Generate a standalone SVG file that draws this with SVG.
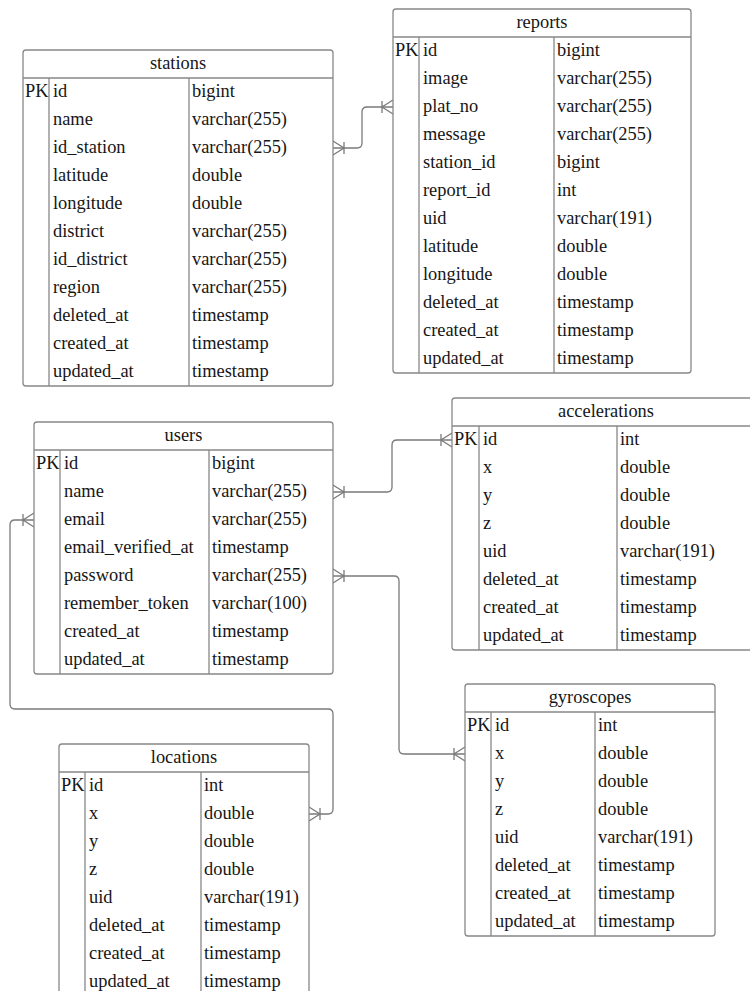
<svg xmlns="http://www.w3.org/2000/svg" width="750" height="991" viewBox="0 0 750 991">
<style>
.box{fill:#fff;stroke:#888;stroke-width:1.3}
.ln{stroke:#888;stroke-width:1.3;fill:none}
.t{font-family:"Liberation Serif","Times New Roman",serif;font-size:18.4px;fill:#161616}
.h{text-anchor:middle}
.conn{fill:none;stroke:#7a7a7a;stroke-width:1.3;marker-start:url(#crow);marker-end:url(#crow)}
</style>
<defs>
<marker id="crow" markerUnits="userSpaceOnUse" refX="0" refY="0" markerWidth="30" markerHeight="30" orient="auto-start-reverse" overflow="visible">
<path d="M0,-7 L-11,0 L0,7 M-11,-6 V6" fill="none" stroke="#7a7a7a" stroke-width="1.3"/>
</marker>
</defs>
<rect width="750" height="991" fill="#fff"/>

<g id="connectors">
<path class="conn" d="M333,148 H357 Q362,148 362,143 V112 Q362,107 367,107 H393"/>
<path class="conn" d="M333,492 H387 Q392,492 392,487 V445 Q392,440 397,440 H452"/>
<path class="conn" d="M34,520 H15 Q10,520 10,525 V704 Q10,709 15,709 H328 Q333,709 333,714 V809 Q333,814 328,814 H309"/>
<path class="conn" d="M333,576 H394 Q399,576 399,581 V749 Q399,754 404,754 H465"/>
</g>

<g id="stations">
<rect class="box" x="23" y="50" width="310" height="336" rx="3"/>
<path class="ln" d="M23,78 H333 M49,78 V386 M189,78 V386"/>
<text class="t h" x="178" y="68.5">stations</text>
<text class="t" x="25" y="97">PK</text>
<text class="t" x="53" y="97">id</text><text class="t" x="192" y="97">bigint</text>
<text class="t" x="53" y="125">name</text><text class="t" x="192" y="125">varchar(255)</text>
<text class="t" x="53" y="153">id_station</text><text class="t" x="192" y="153">varchar(255)</text>
<text class="t" x="53" y="181">latitude</text><text class="t" x="192" y="181">double</text>
<text class="t" x="53" y="209">longitude</text><text class="t" x="192" y="209">double</text>
<text class="t" x="53" y="237">district</text><text class="t" x="192" y="237">varchar(255)</text>
<text class="t" x="53" y="265">id_district</text><text class="t" x="192" y="265">varchar(255)</text>
<text class="t" x="53" y="293">region</text><text class="t" x="192" y="293">varchar(255)</text>
<text class="t" x="53" y="321">deleted_at</text><text class="t" x="192" y="321">timestamp</text>
<text class="t" x="53" y="349">created_at</text><text class="t" x="192" y="349">timestamp</text>
<text class="t" x="53" y="377">updated_at</text><text class="t" x="192" y="377">timestamp</text>
</g>

<g id="reports">
<rect class="box" x="393" y="9" width="298" height="364" rx="3"/>
<path class="ln" d="M393,37 H691 M419,37 V373 M554,37 V373"/>
<text class="t h" x="542" y="27.5">reports</text>
<text class="t" x="395" y="56">PK</text>
<text class="t" x="423" y="56">id</text><text class="t" x="557" y="56">bigint</text>
<text class="t" x="423" y="84">image</text><text class="t" x="557" y="84">varchar(255)</text>
<text class="t" x="423" y="112">plat_no</text><text class="t" x="557" y="112">varchar(255)</text>
<text class="t" x="423" y="140">message</text><text class="t" x="557" y="140">varchar(255)</text>
<text class="t" x="423" y="168">station_id</text><text class="t" x="557" y="168">bigint</text>
<text class="t" x="423" y="196">report_id</text><text class="t" x="557" y="196">int</text>
<text class="t" x="423" y="224">uid</text><text class="t" x="557" y="224">varchar(191)</text>
<text class="t" x="423" y="252">latitude</text><text class="t" x="557" y="252">double</text>
<text class="t" x="423" y="280">longitude</text><text class="t" x="557" y="280">double</text>
<text class="t" x="423" y="308">deleted_at</text><text class="t" x="557" y="308">timestamp</text>
<text class="t" x="423" y="336">created_at</text><text class="t" x="557" y="336">timestamp</text>
<text class="t" x="423" y="364">updated_at</text><text class="t" x="557" y="364">timestamp</text>
</g>

<g id="users">
<rect class="box" x="34" y="422" width="299" height="252" rx="3"/>
<path class="ln" d="M34,450 H333 M60,450 V674 M209,450 V674"/>
<text class="t h" x="183.5" y="440.5">users</text>
<text class="t" x="36" y="469">PK</text>
<text class="t" x="64" y="469">id</text><text class="t" x="212" y="469">bigint</text>
<text class="t" x="64" y="497">name</text><text class="t" x="212" y="497">varchar(255)</text>
<text class="t" x="64" y="525">email</text><text class="t" x="212" y="525">varchar(255)</text>
<text class="t" x="64" y="553">email_verified_at</text><text class="t" x="212" y="553">timestamp</text>
<text class="t" x="64" y="581">password</text><text class="t" x="212" y="581">varchar(255)</text>
<text class="t" x="64" y="609">remember_token</text><text class="t" x="212" y="609">varchar(100)</text>
<text class="t" x="64" y="637">created_at</text><text class="t" x="212" y="637">timestamp</text>
<text class="t" x="64" y="665">updated_at</text><text class="t" x="212" y="665">timestamp</text>
</g>

<g id="accelerations">
<rect class="box" x="452" y="398" width="308" height="252" rx="3"/>
<path class="ln" d="M452,426 H760 M479,426 V650 M617,426 V650"/>
<text class="t h" x="606" y="416.5">accelerations</text>
<text class="t" x="454" y="445">PK</text>
<text class="t" x="483" y="445">id</text><text class="t" x="620" y="445">int</text>
<text class="t" x="483" y="473">x</text><text class="t" x="620" y="473">double</text>
<text class="t" x="483" y="501">y</text><text class="t" x="620" y="501">double</text>
<text class="t" x="483" y="529">z</text><text class="t" x="620" y="529">double</text>
<text class="t" x="483" y="557">uid</text><text class="t" x="620" y="557">varchar(191)</text>
<text class="t" x="483" y="585">deleted_at</text><text class="t" x="620" y="585">timestamp</text>
<text class="t" x="483" y="613">created_at</text><text class="t" x="620" y="613">timestamp</text>
<text class="t" x="483" y="641">updated_at</text><text class="t" x="620" y="641">timestamp</text>
</g>

<g id="gyroscopes">
<rect class="box" x="465" y="684" width="250" height="252" rx="3"/>
<path class="ln" d="M465,712 H715 M491,712 V936 M595,712 V936"/>
<text class="t h" x="590" y="702.5">gyroscopes</text>
<text class="t" x="467" y="731">PK</text>
<text class="t" x="495" y="731">id</text><text class="t" x="598" y="731">int</text>
<text class="t" x="495" y="759">x</text><text class="t" x="598" y="759">double</text>
<text class="t" x="495" y="787">y</text><text class="t" x="598" y="787">double</text>
<text class="t" x="495" y="815">z</text><text class="t" x="598" y="815">double</text>
<text class="t" x="495" y="843">uid</text><text class="t" x="598" y="843">varchar(191)</text>
<text class="t" x="495" y="871">deleted_at</text><text class="t" x="598" y="871">timestamp</text>
<text class="t" x="495" y="899">created_at</text><text class="t" x="598" y="899">timestamp</text>
<text class="t" x="495" y="927">updated_at</text><text class="t" x="598" y="927">timestamp</text>
</g>

<g id="locations">
<rect class="box" x="59" y="744" width="250" height="252" rx="3"/>
<path class="ln" d="M59,772 H309 M85,772 V996 M201,772 V996"/>
<text class="t h" x="184" y="762.5">locations</text>
<text class="t" x="61" y="791">PK</text>
<text class="t" x="89" y="791">id</text><text class="t" x="204" y="791">int</text>
<text class="t" x="89" y="819">x</text><text class="t" x="204" y="819">double</text>
<text class="t" x="89" y="847">y</text><text class="t" x="204" y="847">double</text>
<text class="t" x="89" y="875">z</text><text class="t" x="204" y="875">double</text>
<text class="t" x="89" y="903">uid</text><text class="t" x="204" y="903">varchar(191)</text>
<text class="t" x="89" y="931">deleted_at</text><text class="t" x="204" y="931">timestamp</text>
<text class="t" x="89" y="959">created_at</text><text class="t" x="204" y="959">timestamp</text>
<text class="t" x="89" y="987">updated_at</text><text class="t" x="204" y="987">timestamp</text>
</g>
</svg>
